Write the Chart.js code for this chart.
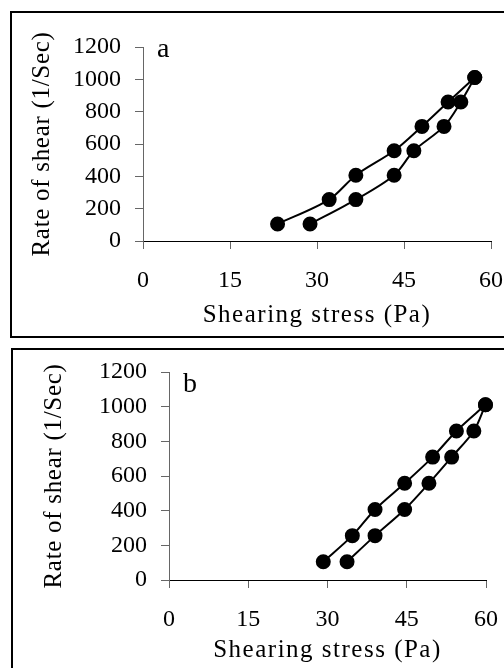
<!DOCTYPE html>
<html>
<head>
<meta charset="utf-8">
<script src="https://cdn.jsdelivr.net/npm/chart.js@4/dist/chart.umd.min.js"></script>
<style>
  html, body { margin: 0; padding: 0; background: #fff; overflow: hidden; width: 504px; height: 668px; }
  .box { position: absolute; border: 2px solid #000; box-sizing: border-box; }
  #boxA { left: 10px; top: 11px; width: 540px; height: 327px; }
  #boxB { left: 11px; top: 348px; width: 540px; height: 400px; }
  canvas { position: absolute; left: 0; }
  #chartA { top: 0; }
  #chartB { top: 340px; }
</style>
</head>
<body>
<div class="box" id="boxA"></div>
<div class="box" id="boxB"></div>
<canvas id="chartA" width="530" height="340"></canvas>
<canvas id="chartB" width="530" height="340"></canvas>
<script>
// rate of shear (1/Sec), same steps for every curve
const shearRate = [105, 256, 407, 558, 709, 860, 1011];

// panel a: shearing stress (Pa)
const stressUpA   = [23.2, 32.1, 36.7, 43.3, 48.1, 52.6, 57.2];
const stressDownA = [28.8, 36.7, 43.3, 46.7, 51.9, 54.8, 57.2];

// panel b
const stressUpB   = [29.2, 34.7, 39.0, 44.6, 49.9, 54.4, 59.9];
const stressDownB = [33.7, 39.0, 44.6, 49.2, 53.5, 57.7, 59.9];

const xMax = 60, xStep = 15;
const yMax = 1200, yStep = 200;

const serif = '"Liberation Serif", "Times New Roman", serif';

// spread the axis titles a bit, like the original
const baseDrawTitle = Chart.Scale.prototype.drawTitle;
Chart.Scale.prototype.drawTitle = function () {
  const ctx = this.ctx;
  ctx.save();
  ctx.letterSpacing = (this.options.title.spacing || 0) + 'px';
  baseDrawTitle.call(this);
  ctx.restore();
};

const panelLetter = {
  id: 'panelLetter',
  afterDraw(chart, args, opts) {
    const { ctx, chartArea } = chart;
    ctx.save();
    ctx.font = '28px ' + serif;
    ctx.fillStyle = '#000';
    ctx.textBaseline = 'alphabetic';
    ctx.fillText(opts.text, chartArea.left + opts.dx, chartArea.top + opts.dy);
    ctx.restore();
  }
};

function points(xs) {
  return xs.map((x, i) => ({ x: x, y: shearRate[i] }));
}

function curve(xs) {
  return {
    data: points(xs),
    showLine: true,
    borderColor: '#000',
    borderWidth: 2,
    backgroundColor: '#000',
    pointRadius: 6.5,
    pointHoverRadius: 6.5,
    tension: 0.3,
    clip: false
  };
}

const plain = v => String(v);

function makePanel(id, upX, downX, g) {
  return new Chart(document.getElementById(id), {
    type: 'scatter',
    data: { datasets: [curve(upX), curve(downX)] },
    options: {
      responsive: false,
      animation: false,
      layout: { padding: { left: 0, top: g.top, right: g.right, bottom: 0 } },
      plugins: {
        legend: { display: false },
        tooltip: { enabled: false },
        panelLetter: { text: g.letter, dx: 14, dy: g.letterDy }
      },
      scales: {
        x: {
          type: 'linear',
          min: 0, max: xMax,
          ticks: { stepSize: xStep, color: '#000', padding: 17, callback: plain, font: { family: serif, size: 24 } },
          grid: { drawOnChartArea: false, drawTicks: true, tickLength: 8, color: '#666' },
          border: { display: true, color: '#000', width: 1 },
          title: {
            display: true, text: 'Shearing stress (Pa)', color: '#000', spacing: 1.5,
            font: { family: serif, size: 25 }, padding: { top: 0, bottom: g.xTitlePad }
          },
          afterFit(scale) { scale.height = 340 - g.bottom; }
        },
        y: {
          type: 'linear',
          min: 0, max: yMax,
          ticks: { stepSize: yStep, color: '#000', padding: 14, callback: plain, font: { family: serif, size: 24 } },
          grid: { drawOnChartArea: false, drawTicks: true, tickLength: 8, color: '#666' },
          border: { display: true, color: '#666', width: 1 },
          title: {
            display: true, text: 'Rate of shear (1/Sec)', color: '#000', spacing: 0.7,
            font: { family: serif, size: 25 }, padding: { top: g.yTitlePad, bottom: 0 }
          },
          afterFit(scale) { scale.width = g.left; }
        }
      }
    },
    plugins: [panelLetter]
  });
}

makePanel('chartA', stressUpA, stressDownA, {
  left: 143, top: 47, right: 39, bottom: 241,
  yTitlePad: 27, xTitlePad: 10, letter: 'a', letterDy: 10
});

makePanel('chartB', stressUpB, stressDownB, {
  left: 169, top: 32, right: 44, bottom: 240,
  yTitlePad: 39, xTitlePad: 15, letter: 'b', letterDy: 20
});
</script>
</body>
</html>
